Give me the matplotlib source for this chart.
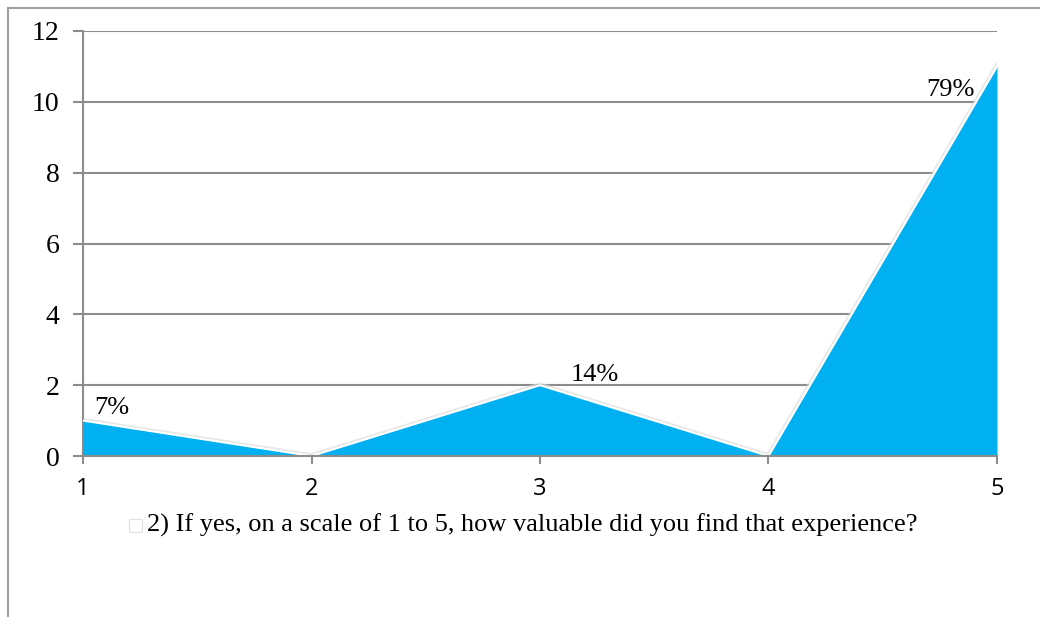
import matplotlib.pyplot as plt
from matplotlib.lines import Line2D

ratings = [1, 2, 3, 4, 5]
counts = [1, 0, 2, 0, 11]
pct_labels = ['7%', '', '14%', '', '79%']
yticks = [0, 2, 4, 6, 8, 10, 12]
legend_text = '2) If yes, on a scale of 1 to 5, how valuable did you find that experience?'

serif = 'Liberation Serif'
sans = 'Open Sans'
grid_col = '#8c8c8c'
fill_col = '#00B0F0'

fig = plt.figure(figsize=(10.4, 6.17), dpi=100)
ax = fig.add_axes([83 / 1040, 1 - 456 / 617, 914 / 1040, 425 / 617])

# outer chart frame (only left and top edges visible)
fig.add_artist(Line2D([8 / 1040, 8 / 1040], [0, 1 - 8 / 617], color='#a0a0a0', lw=1.5, transform=fig.transFigure))
fig.add_artist(Line2D([8 / 1040, 1], [1 - 8 / 617, 1 - 8 / 617], color='#a0a0a0', lw=1.5, transform=fig.transFigure))

ax.fill_between(ratings, counts, 0, color=fill_col, lw=0, zorder=3)
# soft shadow + white outline along the top edge
ax.plot(ratings, counts, color='#d9d9d9', lw=4, zorder=2.5, alpha=0.6)
ax.plot(ratings, counts, color='white', lw=1.5, zorder=4)

ax.set_xlim(1, 5)
ax.set_ylim(0, 12)
ax.set_yticks(yticks)
ax.set_xticks(ratings)
ax.set_yticklabels([str(v) for v in yticks], fontfamily=serif, fontsize=20)
ax.set_xticklabels([str(v) for v in ratings], fontfamily=sans, fontsize=17)
ax.grid(axis='y', color=grid_col, lw=1.5, zorder=1)
ax.set_axisbelow(True)
for s in ['top', 'right']:
    ax.spines[s].set_visible(False)
ax.spines['left'].set_color(grid_col)
ax.spines['left'].set_linewidth(1.5)
ax.spines['bottom'].set_color(grid_col)
ax.spines['bottom'].set_linewidth(1.5)
ax.spines['bottom'].set_zorder(5)
ax.tick_params(axis='y', length=7, width=1.5, color=grid_col, pad=10)
ax.tick_params(axis='x', length=6, width=1.5, color=grid_col, pad=9)

# label anchor: (dx, dy, ha, va) relative to the data point
placement = {1: (0.127, 0.05, 'center', 'bottom'),
             3: (0.24, -0.02, 'center', 'bottom'),
             5: (-0.1, -0.35, 'right', 'top')}
for x, y, lab in zip(ratings, counts, pct_labels):
    if not lab:
        continue
    dx, dy, ha, va = placement[x]
    ax.text(x + dx, y + dy, lab, fontfamily=serif, fontsize=19, ha=ha, va=va, zorder=6)

# legend entry
fig.patches.append(plt.Rectangle((129 / 1040, 1 - 532 / 617), 13 / 1040, 13 / 617,
                                 transform=fig.transFigure, facecolor='white', edgecolor='#e0e0e0', lw=0.8))
fig.text(147 / 1040, 1 - 525 / 617, legend_text, fontfamily=serif, fontsize=19, va='center', ha='left')

fig.savefig('out.png', dpi=100)
